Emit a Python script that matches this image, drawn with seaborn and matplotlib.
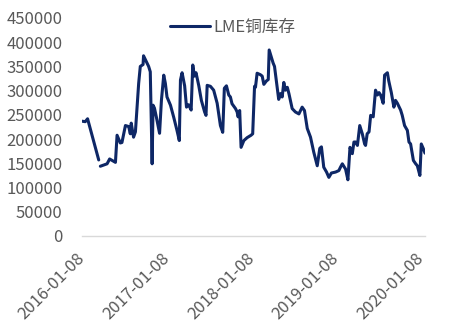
import numpy as np
import pandas as pd
import matplotlib
matplotlib.use("Agg")
import matplotlib.pyplot as plt
import seaborn as sns

# ---- data ----
dates = [
    "2016-01-08", "2016-01-22", "2016-02-01", "2016-03-20", "2016-03-23",
    "2016-03-27", "2016-04-25", "2016-05-06", "2016-05-31", "2016-06-07",
    "2016-06-21", "2016-06-28", "2016-07-13", "2016-07-27", "2016-08-03",
    "2016-08-07", "2016-08-17", "2016-08-25", "2016-09-08", "2016-09-15",
    "2016-09-27", "2016-09-29", "2016-10-14", "2016-10-21", "2016-10-28",
    "2016-11-05", "2016-11-09", "2016-11-15", "2016-11-23", "2016-12-07",
    "2016-12-15", "2016-12-25", "2017-01-01", "2017-01-08", "2017-01-23",
    "2017-02-06", "2017-02-20", "2017-03-02", "2017-03-07", "2017-03-14",
    "2017-03-25", "2017-04-02", "2017-04-11", "2017-04-22", "2017-04-29",
    "2017-05-06", "2017-05-13", "2017-05-25", "2017-06-05", "2017-06-19",
    "2017-06-25", "2017-06-30", "2017-07-14", "2017-07-28", "2017-08-12",
    "2017-08-26", "2017-09-05", "2017-09-12", "2017-09-21", "2017-10-01",
    "2017-10-08", "2017-10-15", "2017-10-30", "2017-11-06", "2017-11-10",
    "2017-11-17", "2017-11-23", "2017-12-05", "2017-12-19", "2018-01-05",
    "2018-01-12", "2018-01-20", "2018-01-24", "2018-01-31", "2018-02-14",
    "2018-02-22", "2018-03-01", "2018-03-12", "2018-03-20", "2018-03-24",
    "2018-04-02", "2018-04-10", "2018-04-16", "2018-05-04", "2018-05-12",
    "2018-05-19", "2018-05-26", "2018-06-02", "2018-06-10", "2018-06-17",
    "2018-07-01", "2018-07-15", "2018-07-30", "2018-08-13", "2018-08-23",
    "2018-09-04", "2018-09-18", "2018-10-02", "2018-10-17", "2018-10-28",
    "2018-11-04", "2018-11-14", "2018-11-26", "2018-12-06", "2018-12-17",
    "2019-01-04", "2019-01-18", "2019-01-25", "2019-02-02", "2019-02-16",
    "2019-02-26", "2019-03-07", "2019-03-17", "2019-03-24", "2019-03-31",
    "2019-04-08", "2019-04-18", "2019-04-29", "2019-05-09", "2019-05-13",
    "2019-05-20", "2019-05-28", "2019-06-04", "2019-06-15", "2019-06-25",
    "2019-07-03", "2019-07-10", "2019-07-17", "2019-07-28", "2019-08-03",
    "2019-08-15", "2019-08-21", "2019-09-01", "2019-09-12", "2019-09-19",
    "2019-09-27", "2019-10-11", "2019-10-18", "2019-10-28", "2019-11-09",
    "2019-11-16", "2019-11-23", "2019-12-05", "2019-12-15", "2019-12-22",
    "2020-01-02", "2020-01-08", "2020-01-17", "2020-01-24",
]
stocks = [
    237000, 236000, 242000, 157000, np.nan,
    144000, 149000, 159000, 152000, 208000,
    192000, 193000, 228000, 226000, 211000,
    233000, 204000, 215000, 315000, 350000,
    354000, 372000, 357000, 350000, 339000,
    149000, 270000, 264000, 246000, 212000,
    280000, 332000, 315000, 287000, 270000,
    245000, 218000, 197000, 322000, 337000,
    310000, 266000, 271000, 260000, 353000,
    330000, 337000, 310000, 280000, 256000,
    249000, 311000, 309000, 301000, 274000,
    228000, 214000, 305000, 310000, 291000,
    287000, 273000, 263000, 256000, 246000,
    259000, 183000, 197000, 203000, 208000,
    211000, 309000, 307000, 336000, 333000,
    330000, 313000, 320000, 323000, 384000,
    370000, 357000, 350000, 282000, 294000,
    287000, 317000, 301000, 307000, 294000,
    263000, 256000, 252000, 266000, 259000,
    222000, 204000, 173000, 145000, 181000,
    184000, 142000, 132000, 121000, 130000,
    132000, 135000, 142000, 149000, 138000,
    116000, 183000, 170000, 194000, 194000,
    187000, 228000, 211000, 190000, 187000,
    211000, 215000, 249000, 246000, 301000,
    291000, 296000, 291000, 274000, 332000,
    337000, 320000, 296000, 266000, 280000,
    274000, 260000, 249000, 228000, 218000,
    194000, 190000, 156000, 149000, 145000,
    125000, 190000, 180000, 171000,
]
tick_dates = ["2016-01-08", "2017-01-08", "2018-01-08", "2019-01-08", "2020-01-08"]
yticks = [0, 50000, 100000, 150000, 200000, 250000, 300000, 350000, 400000, 450000]
series_name = "LME铜库存"

df = pd.DataFrame({"date": pd.to_datetime(dates), "value": stocks})

sns.set_theme(style="white")
plt.rcParams["font.family"] = ["Noto Sans CJK SC", "DejaVu Sans"]

fig = plt.figure(figsize=(4.61, 3.33), dpi=100)
ax = fig.add_axes([82 / 461, 1 - 236 / 333, 343 / 461, 218 / 333])

line_color = "#0E2766"
valid = df["value"].notna()
seg = (~valid).cumsum()
first = True
for _, part in df[valid].groupby(seg[valid]):
    sns.lineplot(data=part, x="date", y="value", ax=ax, color=line_color,
                 linewidth=2.2, label=series_name if first else None,
                 legend=False)
    first = False

ax.set_xlim(df["date"].min(), df["date"].max())
ax.set_ylim(0, 450000)
ax.set_yticks(yticks)
ax.set_yticklabels([str(v) for v in yticks])
ax.set_xticks(pd.to_datetime(tick_dates))
ax.set_xticklabels(tick_dates)
ax.set_xlabel("")
ax.set_ylabel("")

for s in ["top", "right", "left"]:
    ax.spines[s].set_visible(False)
ax.spines["bottom"].set_color("#D9D9D9")
ax.spines["bottom"].set_linewidth(1.0)
ax.grid(False)

ax.tick_params(axis="y", length=0, pad=14, labelsize=12, labelcolor="#595959")
ax.tick_params(axis="x", length=0, pad=14, labelsize=12, labelcolor="#595959")
for lbl in ax.get_xticklabels():
    lbl.set_rotation(45)
    lbl.set_ha("right")
    lbl.set_va("center")
    lbl.set_rotation_mode("anchor")

leg = ax.legend(loc="upper center", bbox_to_anchor=(0.44, 1.065), frameon=False,
                fontsize=12, handlelength=2.4, handletextpad=0.2,
                labelcolor="#595959")

fig.savefig("out.png", dpi=100, facecolor="white")
